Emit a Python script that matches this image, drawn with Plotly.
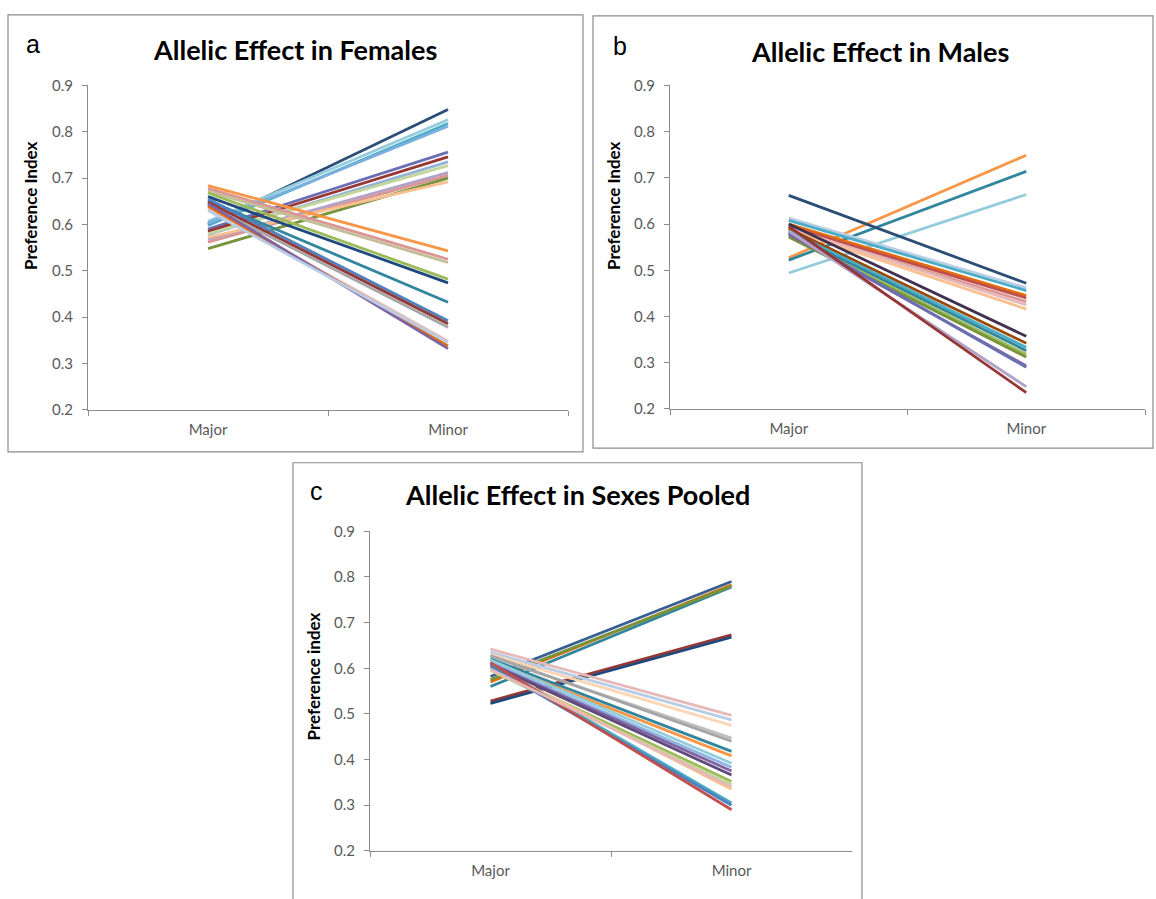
import plotly.graph_objects as go

W, H = 1156, 899

categories = ["Major", "Minor"]
y_ticks = [0.2, 0.3, 0.4, 0.5, 0.6, 0.7, 0.8, 0.9]
y_tick_labels = ["0.2", "0.3", "0.4", "0.5", "0.6", "0.7", "0.8", "0.9"]

titles = ["Allelic Effect in Females", "Allelic Effect in Males", "Allelic Effect in Sexes Pooled"]
panel_letters = ["a", "b", "c"]
y_titles = ["Preference Index", "Preference Index", "Preference index"]

# Panel a: Females
females_major = [0.600, 0.607, 0.598, 0.603, 0.590, 0.585, 0.578, 0.580, 0.568, 0.562, 0.548, 0.572,
                 0.684, 0.678, 0.672, 0.668, 0.660, 0.652, 0.655, 0.648, 0.642, 0.636, 0.640, 0.645, 0.630]
females_minor = [0.848, 0.826, 0.818, 0.812, 0.756, 0.746, 0.735, 0.727, 0.712, 0.706, 0.700, 0.692,
                 0.543, 0.525, 0.518, 0.482, 0.474, 0.432, 0.392, 0.386, 0.378, 0.348, 0.338, 0.332, 0.345]

# Panel b: Males
males_major = [0.527, 0.522, 0.494,
               0.662, 0.613, 0.608, 0.600, 0.595, 0.590, 0.592, 0.588,
               0.600, 0.590, 0.585, 0.580, 0.575, 0.572, 0.578, 0.582, 0.585, 0.595]
males_minor = [0.749, 0.714, 0.664,
               0.472, 0.462, 0.456, 0.445, 0.440, 0.432, 0.425, 0.416,
               0.357, 0.342, 0.333, 0.326, 0.318, 0.312, 0.293, 0.290, 0.248, 0.235]

# Panel c: Sexes pooled
pooled_major = [0.582, 0.570, 0.560, 0.575, 0.528, 0.523,
                0.642, 0.635, 0.630, 0.625, 0.628, 0.620, 0.615, 0.618, 0.612, 0.610,
                0.608, 0.600, 0.595, 0.605, 0.610, 0.605, 0.612, 0.598]
pooled_minor = [0.790, 0.783, 0.778, 0.780, 0.673, 0.668,
                0.497, 0.487, 0.475, 0.447, 0.440, 0.418, 0.408, 0.392, 0.383, 0.375,
                0.366, 0.352, 0.345, 0.335, 0.305, 0.300, 0.290, 0.340]

# Style: line colours (Office 2007 palette)
females_colors = ["#2C4D75", "#93CDDD", "#4BACC6", "#7CAFDD", "#6A6FB3", "#953735", "#95B3D7", "#C3D69B",
                  "#B3A2C7", "#D99694", "#77933C", "#FAC090",
                  "#F79646", "#D99694", "#C4BD97", "#9BBB59", "#1F497D", "#31859C", "#4F81BD", "#953735",
                  "#A6A6A6", "#E6B9B8", "#E46C0A", "#8064A2", "#B9CDE5"]
males_colors = ["#F79646", "#31859C", "#93CDDD",
                "#2C4D75", "#B9CDE5", "#4BACC6", "#E46C0A", "#C0504D", "#D99694", "#E6B9B8", "#FAC090",
                "#403151", "#984807", "#4BACC6", "#31859C", "#9BBB59", "#77933C", "#8064A2", "#6A6FB3",
                "#B3A2C7", "#953735"]
pooled_colors = ["#376092", "#E46C0A", "#31859C", "#77933C", "#953735", "#1F497D",
                 "#E6B9B8", "#B9CDE5", "#FCD5B5", "#BFBFBF", "#A5A5A5", "#31859C", "#F79646", "#93CDDD",
                 "#8EB4E3", "#8064A2", "#604A7B", "#9BBB59", "#C3D69B", "#FAC090", "#4BACC6", "#4F81BD",
                 "#C0504D", "#E6B9B8"]


def px_x(p):
    return p / W


def px_y(p):
    return 1 - p / H


# layout geometry in pixels
panels = [
    dict(frame=(8, 5, 583, 451), xdom=(88, 568), ydom=(77, 408), title=(295, 40), letter=(33, 35), ytitle=(31, 200)),
    dict(frame=(593, 6, 1153, 447), xdom=(670, 1145), ydom=(77, 407), title=(880, 42), letter=(620, 37), ytitle=(614, 200)),
    dict(frame=(293, 462, 862, 940), xdom=(370, 852), ydom=(532, 858), title=(577, 494), letter=(316, 491), ytitle=(313, 680)),
]

series = [
    (females_major, females_minor, females_colors),
    (males_major, males_minor, males_colors),
    (pooled_major, pooled_minor, pooled_colors),
]

fig = go.Figure()
tick_font = dict(family="Lato, Open Sans, sans-serif", size=15, color="#595959")
axis_col = "#8C8C8C"
shapes = []
annotations = []

for i, (p, (maj, mnr, cols)) in enumerate(zip(panels, series)):
    n = "" if i == 0 else str(i + 1)
    for a, b, c in zip(maj, mnr, cols):
        fig.add_trace(go.Scatter(x=categories, y=[a, b], mode="lines",
                                 line=dict(color=c, width=2.8),
                                 xaxis="x" + n, yaxis="y" + n, showlegend=False,
                                 hoverinfo="skip"))
    fig.update_layout(**{
        "xaxis" + n: dict(domain=[px_x(p["xdom"][0]), px_x(p["xdom"][1])],
                          anchor="y" + n, type="category", range=[-0.5, 1.5],
                          showline=True, linecolor=axis_col, linewidth=1,
                          ticks="outside", tickson="boundaries", ticklen=5, tickcolor=axis_col,
                          tickfont=tick_font, showgrid=False, zeroline=False,
                          ticklabelstandoff=6, fixedrange=True),
        "yaxis" + n: dict(domain=[px_y(p["ydom"][1]), px_y(p["ydom"][0])],
                          anchor="x" + n, range=[0.2, 0.9],
                          tickvals=y_ticks, ticktext=y_tick_labels,
                          showline=True, linecolor=axis_col, linewidth=1,
                          ticks="outside", ticklen=5, tickcolor=axis_col,
                          tickfont=tick_font, showgrid=False, zeroline=False,
                          ticklabelstandoff=6, fixedrange=True),
    })
    x0, y0, x1, y1 = p["frame"]
    shapes.append(dict(type="rect", xref="paper", yref="paper",
                       x0=px_x(x0), x1=px_x(x1), y0=px_y(y1), y1=px_y(y0),
                       line=dict(color="#8C8C8C", width=1.2), fillcolor="rgba(0,0,0,0)"))
    annotations.append(dict(text="<b>" + titles[i] + "</b>", xref="paper", yref="paper",
                            x=px_x(p["title"][0]), y=px_y(p["title"][1]),
                            xanchor="center", yanchor="middle", showarrow=False,
                            font=dict(family="Lato, Open Sans, sans-serif", size=27, color="#000000")))
    annotations.append(dict(text=panel_letters[i], xref="paper", yref="paper",
                            x=px_x(p["letter"][0]), y=px_y(p["letter"][1]),
                            xanchor="center", yanchor="middle", showarrow=False,
                            font=dict(family="Liberation Sans, Arial, sans-serif", size=25, color="#000000")))
    annotations.append(dict(text="<b>" + y_titles[i] + "</b>", xref="paper", yref="paper",
                            x=px_x(p["ytitle"][0]), y=px_y(p["ytitle"][1]),
                            xanchor="center", yanchor="middle", showarrow=False, textangle=-90,
                            font=dict(family="Lato, Open Sans, sans-serif", size=17, color="#000000")))

fig.update_layout(width=W, height=H, margin=dict(l=0, r=0, t=0, b=0),
                  paper_bgcolor="white", plot_bgcolor="white",
                  shapes=shapes, annotations=annotations, showlegend=False)

fig.write_html("out.html")
